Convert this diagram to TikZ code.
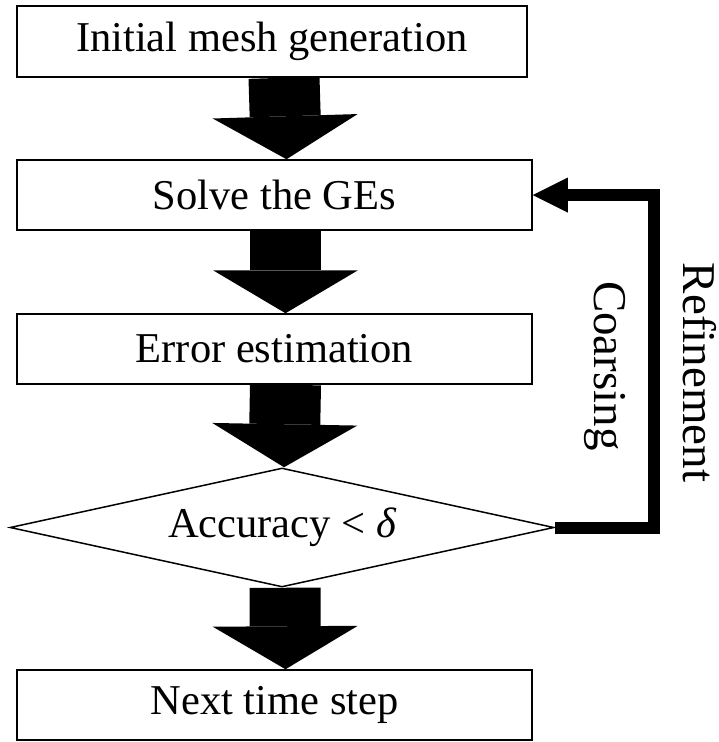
\documentclass[tikz,border=0pt]{standalone}
\usepackage{fontspec}
\setmainfont{Liberation Serif}
\usetikzlibrary{shapes.geometric,arrows.meta}
\begin{document}
\begin{tikzpicture}[x=1pt,y=-1pt,
  txt/.style={font=\fontsize{42.5}{50}\selectfont},
  sidetxt/.style={font=\fontsize{47}{55}\selectfont,rotate=-90,anchor=base,inner sep=0pt},
  box/.style={txt,draw,line width=1.5pt,minimum width=515pt,minimum height=70pt,inner sep=0pt},
  dia/.style={txt,draw,diamond,line width=1.5pt,aspect=4.57,minimum width=544pt,minimum height=119pt,inner sep=0pt},
  blk/.style={line width=71pt,-{Triangle[line width=0pt,width=145pt,length=43pt]}},
  loopline/.style={line width=12pt,line join=miter,-{Triangle[line width=0pt,width=35pt,length=35pt]}}]
\useasboundingbox (0,0) rectangle (719,742);
\node[box,minimum width=510pt,minimum height=71pt] (b1) at (272,41.5) {Initial mesh generation};
\node[box] (b2) at (274.5,195) {Solve the GEs};
\node[box] (b3) at (274.5,349) {Error estimation};
\node[dia] (d) at (282,527.5) {Accuracy < {\itshape δ}};
\node[box] (b5) at (274.5,705) {Next time step};
\draw[blk] ([xshift=12pt]b1.south) -- ([xshift=12pt]b2.north);
\draw[blk] ([xshift=11pt]b2.south) -- ([xshift=11pt]b3.north);
\draw[blk] ([xshift=11pt]b3.south) -- ([xshift=2pt]d.north);
\draw[blk] ([xshift=3pt]d.south) -- ([xshift=11pt]b5.north);
\draw[loopline] (d.east) -- ++(99,0) |- (b2.east);
\node[sidetxt] (c) at (594,366) {Coarsing};
\node[sidetxt] (r) at (683,372.5) {Refinement};
\end{tikzpicture}
\end{document}
